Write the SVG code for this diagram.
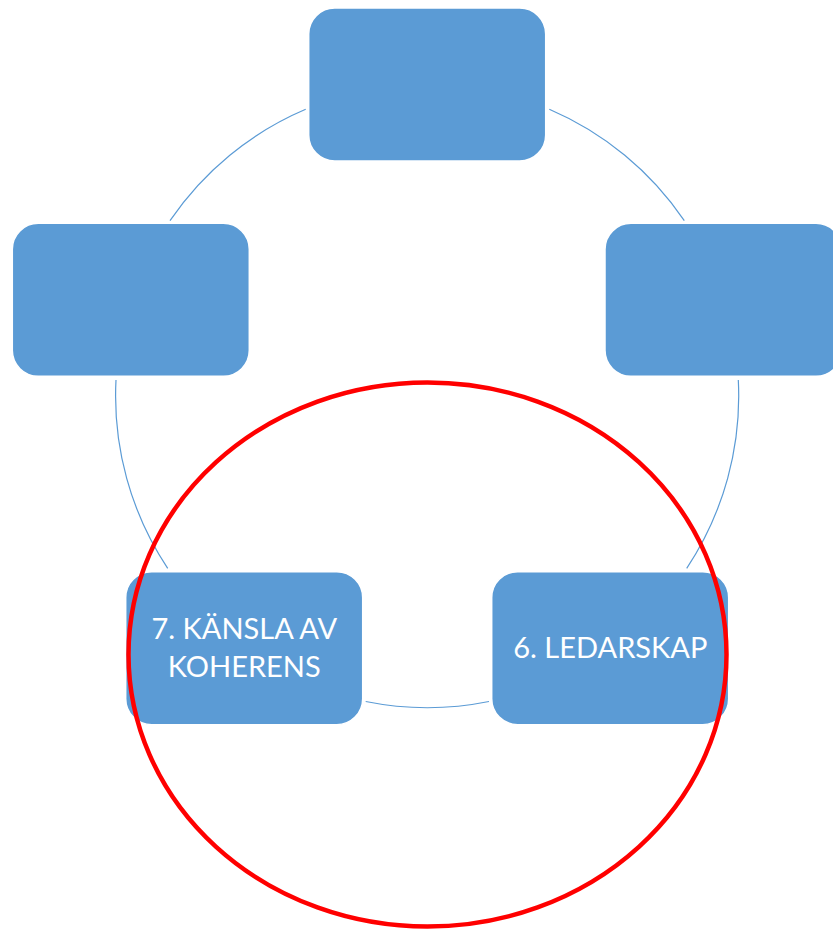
<svg xmlns="http://www.w3.org/2000/svg" width="833" height="930" viewBox="0 0 833 930">
<style>
.box{fill:#5B9BD5;stroke:#FFFFFF;stroke-width:1.5}
.arc{fill:none;stroke:#5B9BD5;stroke-width:1.2}
.lbl{font-family:Lato,"Liberation Sans",sans-serif;font-size:29px;fill:#FFFFFF;text-anchor:middle}
</style>
<rect width="833" height="930" fill="#FFFFFF"/>
<g id="connectors">
<path class="arc" d="M170,220.7 A311,311 0 0 1 305.7,109.3"/>
<path class="arc" d="M549.3,109.3 A311,311 0 0 1 684.3,220.7"/>
<path class="arc" d="M738.3,380 A311,311 0 0 1 686.7,568.3"/>
<path class="arc" d="M489,701.5 A311,311 0 0 1 365.7,701.5"/>
<path class="arc" d="M167.7,568.3 A311,311 0 0 1 116,380"/>
</g>
<g id="node-top"><rect class="box" x="308.7" y="8" width="237" height="153" rx="26"/></g>
<g id="node-right"><rect class="box" x="605" y="223.3" width="237" height="153" rx="26"/></g>
<g id="node-6"><rect class="box" x="491.7" y="571.7" width="237" height="153" rx="26"/>
<text class="lbl" x="610.3" y="657.7">6. LEDARSKAP</text></g>
<g id="node-7"><rect class="box" x="125.7" y="571.7" width="237" height="153" rx="26"/>
<text class="lbl" x="244.3" y="639">7. KÄNSLA AV</text>
<text class="lbl" x="244.3" y="676.7">KOHERENS</text></g>
<g id="node-left"><rect class="box" x="12.3" y="223.3" width="237" height="153" rx="26"/></g>
<ellipse cx="427.5" cy="654.5" rx="299" ry="272" fill="none" stroke="#FF0000" stroke-width="4.5"/>
</svg>
